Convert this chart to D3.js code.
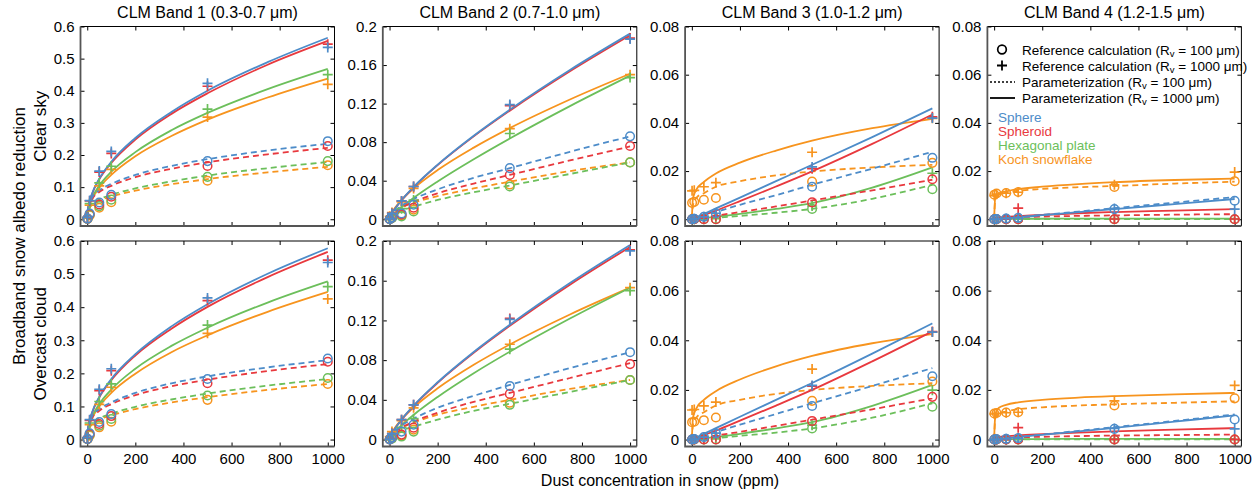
<!DOCTYPE html>
<html>
<head>
<meta charset="utf-8">
<script src="https://cdn.jsdelivr.net/npm/d3@7/dist/d3.min.js"></script>
<style>
  html, body { margin: 0; padding: 0; background: #fff; }
  svg { display: block; font-family: "Liberation Sans", Arial, sans-serif; }
</style>
</head>
<body>
<svg id="chart" width="1260" height="496"></svg>
<script>
// ---- categories and labels ----
const shapes = ["Sphere", "Spheroid", "Hexagonal plate", "Koch snowflake"];
const shapeColors = ["#4d8cc9", "#e8393e", "#6cbf5b", "#f7941e"];
const bandTitles = ["CLM Band 1 (0.3-0.7 \u03bcm)", "CLM Band 2 (0.7-1.0 \u03bcm)",
                    "CLM Band 3 (1.0-1.2 \u03bcm)", "CLM Band 4 (1.2-1.5 \u03bcm)"];
const skyLabels = ["Clear sky", "Overcast cloud"];
const yMax = [0.6, 0.2, 0.08, 0.08];
const yTicks = [
  [0, 0.1, 0.2, 0.3, 0.4, 0.5, 0.6],
  [0, 0.04, 0.08, 0.12, 0.16, 0.2],
  [0, 0.02, 0.04, 0.06, 0.08],
  [0, 0.02, 0.04, 0.06, 0.08]
];
const yTickLabels = [
  ["0", "0.1", "0.2", "0.3", "0.4", "0.5", "0.6"],
  ["0", "0.04", "0.08", "0.12", "0.16", "0.2"],
  ["0", "0.02", "0.04", "0.06", "0.08"],
  ["0", "0.02", "0.04", "0.06", "0.08"]
];
const xTicks = [0, 200, 400, 600, 800, 1000];
const xTickLabels = ["0", "200", "400", "600", "800", "1000"];

// dust concentrations (ppm) of the reference calculations
const refConc = [1, 10, 50, 100, 500, 1000];
// dust concentrations (ppm) at which the parameterization curves are listed
const fitConc = [0, 5, 20, 50, 100, 200, 350, 500, 750, 1000];

// Rows in every array below: Sphere, Spheroid, Hexagonal plate, Koch snowflake

// ---- Band 1, clear sky ----
const b1ClearFit100 = [
  [0, 0.040, 0.068, 0.090, 0.110, 0.138, 0.166, 0.187, 0.214, 0.235],
  [0, 0.037, 0.063, 0.085, 0.104, 0.131, 0.157, 0.177, 0.202, 0.222],
  [0, 0.030, 0.048, 0.062, 0.076, 0.096, 0.118, 0.136, 0.159, 0.178],
  [0, 0.028, 0.045, 0.058, 0.071, 0.089, 0.109, 0.125, 0.146, 0.163]
];
const b1ClearFit1000 = [
  [0, 0.040, 0.080, 0.126, 0.179, 0.253, 0.334, 0.400, 0.489, 0.565],
  [0, 0.039, 0.078, 0.124, 0.175, 0.248, 0.328, 0.392, 0.481, 0.555],
  [0, 0.033, 0.066, 0.105, 0.148, 0.209, 0.277, 0.331, 0.405, 0.468],
  [0, 0.031, 0.062, 0.098, 0.138, 0.196, 0.259, 0.310, 0.379, 0.438]
];
const b1ClearRef100 = [
  [0.002, 0.018, 0.052, 0.076, 0.181, 0.243],
  [0.002, 0.016, 0.046, 0.070, 0.166, 0.228],
  [0.001, 0.014, 0.041, 0.061, 0.132, 0.181],
  [0.001, 0.012, 0.036, 0.053, 0.120, 0.168]
];
const b1ClearRef1000 = [
  [0.006, 0.058, 0.150, 0.211, 0.423, 0.535],
  [0.006, 0.057, 0.147, 0.205, 0.414, 0.545],
  [0.005, 0.049, 0.113, 0.165, 0.343, 0.450],
  [0.004, 0.044, 0.104, 0.155, 0.318, 0.420]
];

// ---- Band 1, overcast cloud ----
const b1CloudFit100 = [
  [0, 0.041, 0.070, 0.092, 0.112, 0.141, 0.170, 0.191, 0.218, 0.240],
  [0, 0.038, 0.065, 0.087, 0.107, 0.134, 0.161, 0.181, 0.207, 0.228],
  [0, 0.031, 0.050, 0.064, 0.078, 0.099, 0.121, 0.139, 0.163, 0.183],
  [0, 0.029, 0.046, 0.060, 0.073, 0.092, 0.112, 0.128, 0.150, 0.168]
];
const b1CloudFit1000 = [
  [0, 0.041, 0.082, 0.129, 0.183, 0.258, 0.342, 0.409, 0.501, 0.578],
  [0, 0.040, 0.080, 0.127, 0.179, 0.254, 0.335, 0.401, 0.491, 0.567],
  [0, 0.034, 0.068, 0.107, 0.151, 0.214, 0.283, 0.338, 0.414, 0.478],
  [0, 0.032, 0.063, 0.100, 0.141, 0.199, 0.264, 0.315, 0.386, 0.446]
];
const b1CloudRef100 = [
  [0.002, 0.019, 0.053, 0.077, 0.183, 0.245],
  [0.002, 0.017, 0.047, 0.071, 0.170, 0.235],
  [0.001, 0.014, 0.042, 0.062, 0.133, 0.186],
  [0.001, 0.012, 0.037, 0.054, 0.120, 0.168]
];
const b1CloudRef1000 = [
  [0.006, 0.060, 0.152, 0.214, 0.428, 0.535],
  [0.006, 0.058, 0.148, 0.208, 0.420, 0.542],
  [0.005, 0.050, 0.115, 0.168, 0.346, 0.462],
  [0.004, 0.045, 0.106, 0.158, 0.321, 0.425]
];

// ---- Band 2, clear sky ----
const b2ClearFit100 = [
  [0, 0.003, 0.008, 0.014, 0.021, 0.031, 0.043, 0.053, 0.070, 0.086],
  [0, 0.0025, 0.007, 0.012, 0.018, 0.027, 0.037, 0.046, 0.061, 0.0755],
  [0, 0.002, 0.005, 0.009, 0.013, 0.020, 0.028, 0.035, 0.047, 0.059],
  [0, 0.003, 0.007, 0.012, 0.017, 0.024, 0.032, 0.039, 0.050, 0.059]
];
const b2ClearFit1000 = [
  [0, 0.0034, 0.0098, 0.0198, 0.0335, 0.0567, 0.0867, 0.1137, 0.1549, 0.1926],
  [0, 0.0034, 0.0098, 0.0196, 0.0332, 0.0562, 0.0860, 0.1127, 0.1536, 0.1910],
  [0, 0.0018, 0.0058, 0.0124, 0.0221, 0.0392, 0.0623, 0.0838, 0.1174, 0.1490],
  [0, 0.0042, 0.0108, 0.0200, 0.0319, 0.0510, 0.0743, 0.0946, 0.1243, 0.1510]
];
const b2ClearRef100 = [
  [0.0002, 0.002, 0.006, 0.015, 0.053, 0.086],
  [0.0002, 0.002, 0.005, 0.012, 0.046, 0.076],
  [0.0001, 0.001, 0.003, 0.008, 0.034, 0.059],
  [0.0003, 0.002, 0.004, 0.010, 0.036, 0.059]
];
const b2ClearRef1000 = [
  [0.0003, 0.006, 0.019, 0.034, 0.119, 0.187],
  [0.0003, 0.006, 0.019, 0.034, 0.118, 0.188],
  [0.0002, 0.004, 0.011, 0.020, 0.089, 0.147],
  [0.003, 0.007, 0.018, 0.032, 0.094, 0.150]
];

// ---- Band 2, overcast cloud ----
const b2CloudFit100 = [
  [0, 0.003, 0.008, 0.014, 0.021, 0.032, 0.044, 0.055, 0.072, 0.088],
  [0, 0.0025, 0.007, 0.012, 0.018, 0.027, 0.038, 0.047, 0.062, 0.077],
  [0, 0.002, 0.005, 0.009, 0.013, 0.020, 0.029, 0.036, 0.048, 0.060],
  [0, 0.003, 0.007, 0.012, 0.017, 0.025, 0.033, 0.040, 0.051, 0.060]
];
const b2CloudFit1000 = [
  [0, 0.0035, 0.0100, 0.0201, 0.0341, 0.0577, 0.0882, 0.1156, 0.1576, 0.1960],
  [0, 0.0035, 0.0099, 0.0199, 0.0337, 0.0571, 0.0873, 0.1145, 0.1560, 0.1940],
  [0, 0.0023, 0.0070, 0.0144, 0.0248, 0.0429, 0.0668, 0.0885, 0.1219, 0.1530],
  [0, 0.0043, 0.0109, 0.0203, 0.0323, 0.0516, 0.0753, 0.0958, 0.1260, 0.1530]
];
const b2CloudRef100 = [
  [0.0002, 0.002, 0.008, 0.015, 0.054, 0.088],
  [0.0002, 0.002, 0.005, 0.012, 0.046, 0.076],
  [0.0001, 0.001, 0.003, 0.008, 0.035, 0.060],
  [0.0003, 0.002, 0.004, 0.010, 0.037, 0.060]
];
const b2CloudRef1000 = [
  [0.0003, 0.006, 0.020, 0.035, 0.121, 0.190],
  [0.0003, 0.006, 0.020, 0.035, 0.122, 0.191],
  [0.0002, 0.004, 0.012, 0.021, 0.091, 0.150],
  [0.003, 0.008, 0.019, 0.032, 0.096, 0.153]
];

// ---- Band 3, clear sky ----
const b3ClearFit100 = [
  [0, 0.0001, 0.0006, 0.0015, 0.0030, 0.0060, 0.0100, 0.0143, 0.0210, 0.0280],
  [0, 0.0001, 0.0003, 0.0008, 0.0015, 0.0030, 0.0053, 0.0078, 0.0120, 0.0164],
  [0, 0.0000, 0.0001, 0.0003, 0.0006, 0.0014, 0.0027, 0.0043, 0.0085, 0.0143],
  [0, 0.0060, 0.0090, 0.0108, 0.0135, 0.0158, 0.0182, 0.0198, 0.0215, 0.0226]
];
const b3ClearFit1000 = [
  [0, 0.0002, 0.0009, 0.0022, 0.0045, 0.0090, 0.0158, 0.0226, 0.0341, 0.0460],
  [0, 0.0002, 0.0007, 0.0018, 0.0036, 0.0075, 0.0136, 0.0199, 0.0313, 0.0435],
  [0, 0.0001, 0.0002, 0.0005, 0.0010, 0.0022, 0.0043, 0.0067, 0.0131, 0.0215],
  [0, 0.0090, 0.0125, 0.0155, 0.0190, 0.0235, 0.0285, 0.0326, 0.0378, 0.0417]
];
const b3ClearRef100 = [
  [0, 0.0002, 0.0010, 0.0025, 0.0135, 0.0255],
  [0, 0, 0, 0, 0.0070, 0.0166],
  [0, 0, 0, 0, 0.0043, 0.0125],
  [0.0068, 0.0072, 0.0081, 0.0088, 0.0156, 0.0234]
];
const b3ClearRef1000 = [
  [0, 0.0002, 0.0010, 0.0025, 0.0217, 0.0420],
  [0, 0.0001, 0.0005, 0.0012, 0.0210, 0.0425],
  [0, 0, 0, 0.0003, 0.0055, 0.0191],
  [0.0118, 0.0120, 0.0135, 0.0152, 0.0278, 0.0419]
];

// ---- Band 3, overcast cloud ----
const b3CloudFit100 = [
  [0, 0.0001, 0.0006, 0.0015, 0.0030, 0.0060, 0.0103, 0.0146, 0.0216, 0.0288],
  [0, 0.0001, 0.0003, 0.0008, 0.0016, 0.0031, 0.0055, 0.0080, 0.0122, 0.0166],
  [0, 0.0000, 0.0001, 0.0003, 0.0006, 0.0015, 0.0028, 0.0045, 0.0088, 0.0146],
  [0, 0.0060, 0.0090, 0.0110, 0.0137, 0.0160, 0.0184, 0.0200, 0.0216, 0.0227]
];
const b3CloudFit1000 = [
  [0, 0.0002, 0.0009, 0.0023, 0.0046, 0.0092, 0.0160, 0.0228, 0.0346, 0.0468],
  [0, 0.0002, 0.0007, 0.0018, 0.0036, 0.0076, 0.0137, 0.0200, 0.0315, 0.0436],
  [0, 0.0001, 0.0002, 0.0005, 0.0010, 0.0023, 0.0045, 0.0070, 0.0136, 0.0220],
  [0, 0.0090, 0.0128, 0.0160, 0.0195, 0.0242, 0.0295, 0.0337, 0.0388, 0.0425]
];
const b3CloudRef100 = [
  [0, 0.0002, 0.0010, 0.0025, 0.0135, 0.0255],
  [0, 0, 0, 0, 0.0075, 0.0172],
  [0, 0, 0, 0, 0.0045, 0.0132],
  [0.0070, 0.0072, 0.0078, 0.0089, 0.0156, 0.0234]
];
const b3CloudRef1000 = [
  [0, 0.0002, 0.0010, 0.0026, 0.0218, 0.0433],
  [0, 0.0001, 0.0005, 0.0012, 0.0215, 0.0435],
  [0, 0, 0, 0.0003, 0.0058, 0.0199],
  [0.0119, 0.0121, 0.0136, 0.0151, 0.0284, 0.0433]
];

// ---- Band 4, clear sky ----
const b4ClearFit100 = [
  [0, 0.0000, 0.0002, 0.0005, 0.0009, 0.0018, 0.0032, 0.0046, 0.0069, 0.0092],
  [0, 0.0003, 0.0005, 0.0007, 0.0009, 0.0011, 0.0014, 0.0016, 0.0019, 0.0021],
  [0, 0, 0, 0, 0.0001, 0.0001, 0.0001, 0.0001, 0.0001, 0.0001],
  [0, 0.0085, 0.0102, 0.0110, 0.0118, 0.0126, 0.0133, 0.0138, 0.0148, 0.0156]
];
const b4ClearFit1000 = [
  [0, 0.0000, 0.0002, 0.0004, 0.0008, 0.0017, 0.0030, 0.0042, 0.0063, 0.0084],
  [0, 0.0005, 0.0007, 0.0010, 0.0013, 0.0018, 0.0025, 0.0030, 0.0036, 0.0042],
  [0, 0.0001, 0.0002, 0.0002, 0.0002, 0.0002, 0.0003, 0.0003, 0.0003, 0.0003],
  [0, 0.0095, 0.0108, 0.0116, 0.0125, 0.0135, 0.0146, 0.0154, 0.0163, 0.0169]
];
const b4ClearRef100 = [
  [0, 0.0001, 0.0003, 0.0006, 0.0042, 0.0077],
  [0, 0, 0, 0, 0, 0],
  [0, 0, 0, 0, 0, 0],
  [0.0102, 0.0107, 0.0109, 0.0113, 0.0134, 0.0158]
];
const b4ClearRef1000 = [
  [0, 0.0001, 0.0003, 0.0006, 0.0045, 0.0042],
  [0, 0, 0, 0.0046, 0.0001, 0.0001],
  [0, 0, 0, 0, 0, 0.0001],
  [0.0098, 0.0104, 0.0108, 0.0112, 0.0143, 0.0196]
];

// ---- Band 4, overcast cloud ----
const b4CloudFit100 = [
  [0, 0.0001, 0.0002, 0.0005, 0.0010, 0.0020, 0.0035, 0.0050, 0.0075, 0.0101],
  [0, 0.0003, 0.0005, 0.0007, 0.0009, 0.0011, 0.0014, 0.0016, 0.0018, 0.0020],
  [0, 0, 0, 0, 0.0001, 0.0001, 0.0001, 0.0001, 0.0001, 0.0001],
  [0, 0.0088, 0.0104, 0.0113, 0.0122, 0.0130, 0.0137, 0.0142, 0.0148, 0.0154]
];
const b4CloudFit1000 = [
  [0, 0.0001, 0.0002, 0.0005, 0.0010, 0.0019, 0.0033, 0.0047, 0.0072, 0.0097],
  [0, 0.0007, 0.0010, 0.0013, 0.0017, 0.0022, 0.0028, 0.0033, 0.0040, 0.0046],
  [0, 0.0001, 0.0002, 0.0002, 0.0002, 0.0002, 0.0003, 0.0003, 0.0003, 0.0003],
  [0, 0.0100, 0.0128, 0.0140, 0.0150, 0.0160, 0.0169, 0.0175, 0.0182, 0.0188]
];
const b4CloudRef100 = [
  [0, 0.0001, 0.0003, 0.0006, 0.0043, 0.0081],
  [0, 0, 0, 0, 0, 0],
  [0, 0, 0, 0, 0, 0],
  [0.0105, 0.0107, 0.0109, 0.0110, 0.0137, 0.0166]
];
const b4CloudRef1000 = [
  [0, 0.0001, 0.0003, 0.0006, 0.0045, 0.0043],
  [0, 0, 0, 0.0048, 0.0001, 0.0001],
  [0, 0, 0, 0, 0, 0],
  [0.0103, 0.0106, 0.0108, 0.0110, 0.0156, 0.0218]
];

// panel table: [row][band]
const panelData = [
  [
    { fit100: b1ClearFit100, fit1000: b1ClearFit1000, ref100: b1ClearRef100, ref1000: b1ClearRef1000 },
    { fit100: b2ClearFit100, fit1000: b2ClearFit1000, ref100: b2ClearRef100, ref1000: b2ClearRef1000 },
    { fit100: b3ClearFit100, fit1000: b3ClearFit1000, ref100: b3ClearRef100, ref1000: b3ClearRef1000 },
    { fit100: b4ClearFit100, fit1000: b4ClearFit1000, ref100: b4ClearRef100, ref1000: b4ClearRef1000 }
  ],
  [
    { fit100: b1CloudFit100, fit1000: b1CloudFit1000, ref100: b1CloudRef100, ref1000: b1CloudRef1000 },
    { fit100: b2CloudFit100, fit1000: b2CloudFit1000, ref100: b2CloudRef100, ref1000: b2CloudRef1000 },
    { fit100: b3CloudFit100, fit1000: b3CloudFit1000, ref100: b3CloudRef100, ref1000: b3CloudRef1000 },
    { fit100: b4CloudFit100, fit1000: b4CloudFit1000, ref100: b4CloudRef100, ref1000: b4CloudRef1000 }
  ]
];

// ---- layout ----
const svg = d3.select("#chart");
const colLeft0 = 80.5, colStep = 302.3, panelW = 254;
const rowTop = [26.5, 241], rowBottom = [226, 446.5];
const xDomain = [-28, 1028];
const drawOrder = [3, 2, 1, 0]; // Koch first, Sphere on top

const clipId = (r, c) => `clip-${r}-${c}`;
const defs = svg.append("defs");

for (let r = 0; r < 2; r++) {
  for (let c = 0; c < 4; c++) {
    const x0 = colLeft0 + c * colStep, x1 = x0 + panelW;
    const y0 = rowTop[r], y1 = rowBottom[r];
    const x = d3.scaleLinear().domain(xDomain).range([x0, x1]);
    const y = d3.scaleLinear().domain([-0.035 * yMax[c], yMax[c]]).range([y1, y0]);
    const d = panelData[r][c];
    const g = svg.append("g");

    defs.append("clipPath").attr("id", clipId(r, c))
      .append("rect").attr("x", x0).attr("y", y0).attr("width", x1 - x0).attr("height", y1 - y0);

    // axes with inward ticks on all four sides
    const yTickFmt = v => yTickLabels[c][yTicks[c].indexOf(v)];
    const xTickFmt = v => xTickLabels[xTicks.indexOf(v)];
    const ax = (sel) => sel.call(s => s.select(".domain").remove())
      .call(s => s.selectAll(".tick line").attr("stroke", "#000").attr("stroke-width", 1))
      .call(s => s.selectAll(".tick text").attr("fill", "#000")
        .style("font-family", '"Liberation Sans", Arial, sans-serif').style("font-size", "15px"));

    g.append("g").attr("transform", `translate(${x0},0)`)
      .call(d3.axisLeft(y).tickValues(yTicks[c]).tickFormat(yTickFmt).tickSizeInner(-4).tickSizeOuter(0).tickPadding(6))
      .call(ax);
    g.append("g").attr("transform", `translate(${x1},0)`)
      .call(d3.axisRight(y).tickValues(yTicks[c]).tickFormat("").tickSizeInner(-4).tickSizeOuter(0))
      .call(ax);
    g.append("g").attr("transform", `translate(0,${y1})`)
      .call(d3.axisBottom(x).tickValues(xTicks).tickFormat(r === 1 ? xTickFmt : "").tickSizeInner(-4).tickSizeOuter(0).tickPadding(7))
      .call(ax);
    g.append("g").attr("transform", `translate(0,${y0})`)
      .call(d3.axisTop(x).tickValues(xTicks).tickFormat("").tickSizeInner(-4).tickSizeOuter(0))
      .call(ax);

    // frame: thin black top/right, heavier grey left/bottom
    g.append("path").attr("d", `M${x0},${y0}H${x1}V${y1}`)
      .attr("fill", "none").attr("stroke", "#000").attr("stroke-width", 1);
    g.append("path").attr("d", `M${x0},${y0}V${y1}H${x1}`)
      .attr("fill", "none").attr("stroke", "#555").attr("stroke-width", 1.8);

    const plot = g.append("g").attr("clip-path", `url(#${clipId(r, c)})`);
    const line = d3.line().x((v, i) => x(fitConc[i])).y(v => y(v)).curve(d3.curveMonotoneX);

    drawOrder.forEach(s => {
      plot.append("path").datum(d.fit100[s]).attr("d", line)
        .attr("fill", "none").attr("stroke", shapeColors[s]).attr("stroke-width", 1.8)
        .attr("stroke-dasharray", "6,4");
      plot.append("path").datum(d.fit1000[s]).attr("d", line)
        .attr("fill", "none").attr("stroke", shapeColors[s]).attr("stroke-width", 1.8);
    });
    drawOrder.forEach(s => {
      plot.selectAll(null).data(d.ref100[s]).join("circle")
        .attr("cx", (v, i) => x(refConc[i])).attr("cy", v => y(v)).attr("r", 4.3)
        .attr("fill", "none").attr("stroke", shapeColors[s]).attr("stroke-width", 1.5);
      plot.selectAll(null).data(d.ref1000[s]).join("path")
        .attr("transform", (v, i) => `translate(${x(refConc[i])},${y(v)})`)
        .attr("d", "M-5,0H5M0,-5V5")
        .attr("fill", "none").attr("stroke", shapeColors[s]).attr("stroke-width", 1.7);
    });

    if (r === 0) {
      svg.append("text").attr("x", (x0 + x1) / 2).attr("y", 18)
        .attr("text-anchor", "middle").style("font-size", "16px").text(bandTitles[c]);
    }
  }
  // row label
  const cy = (rowTop[r] + rowBottom[r]) / 2;
  svg.append("text").attr("transform", `translate(46,${cy}) rotate(-90)`)
    .attr("text-anchor", "middle").style("font-size", "17px").text(skyLabels[r]);
}

// shared axis titles
svg.append("text").attr("transform", `translate(25,236) rotate(-90)`)
  .attr("text-anchor", "middle").style("font-size", "17px").text("Broadband snow albedo reduction");
svg.append("text").attr("x", 660).attr("y", 486)
  .attr("text-anchor", "middle").style("font-size", "16px").text("Dust concentration in snow (ppm)");

// ---- legend (Band 4, clear sky) ----
const legendLabels = [
  ["Reference calculation (R", "v", " = 100 \u03bcm)"],
  ["Reference calculation (R", "v", " = 1000 \u03bcm)"],
  ["Parameterization (R", "v", " = 100 \u03bcm)"],
  ["Parameterization (R", "v", " = 1000 \u03bcm)"]
];
const lg = svg.append("g");
const lgX = 1002, lgTextX = 1022, lgRowY = [49.5, 65.5, 82, 98];
legendLabels.forEach((parts, i) => {
  const t = lg.append("text").attr("x", lgTextX).attr("y", lgRowY[i] + 5).style("font-size", "13.5px");
  t.append("tspan").text(parts[0]);
  t.append("tspan").attr("dy", 2).style("font-size", "9.5px").text(parts[1]);
  t.append("tspan").attr("dy", -2).text(parts[2]);
});
lg.append("circle").attr("cx", lgX).attr("cy", lgRowY[0]).attr("r", 4.3)
  .attr("fill", "none").attr("stroke", "#000").attr("stroke-width", 1.7);
lg.append("path").attr("d", `M${lgX - 5},${lgRowY[1]}H${lgX + 5}M${lgX},${lgRowY[1] - 5}V${lgRowY[1] + 5}`)
  .attr("stroke", "#000").attr("stroke-width", 1.8);
lg.append("path").attr("d", `M990,${lgRowY[2]}H1015`).attr("stroke", "#000")
  .attr("stroke-width", 1.5).attr("stroke-dasharray", "2,2");
lg.append("path").attr("d", `M990,${lgRowY[3]}H1015`).attr("stroke", "#000").attr("stroke-width", 1.8);
shapes.forEach((s, i) => {
  lg.append("text").attr("x", 998).attr("y", 121.5 + i * 14.3).style("font-size", "13.5px")
    .attr("fill", shapeColors[i]).text(s);
});
</script>
</body>
</html>
